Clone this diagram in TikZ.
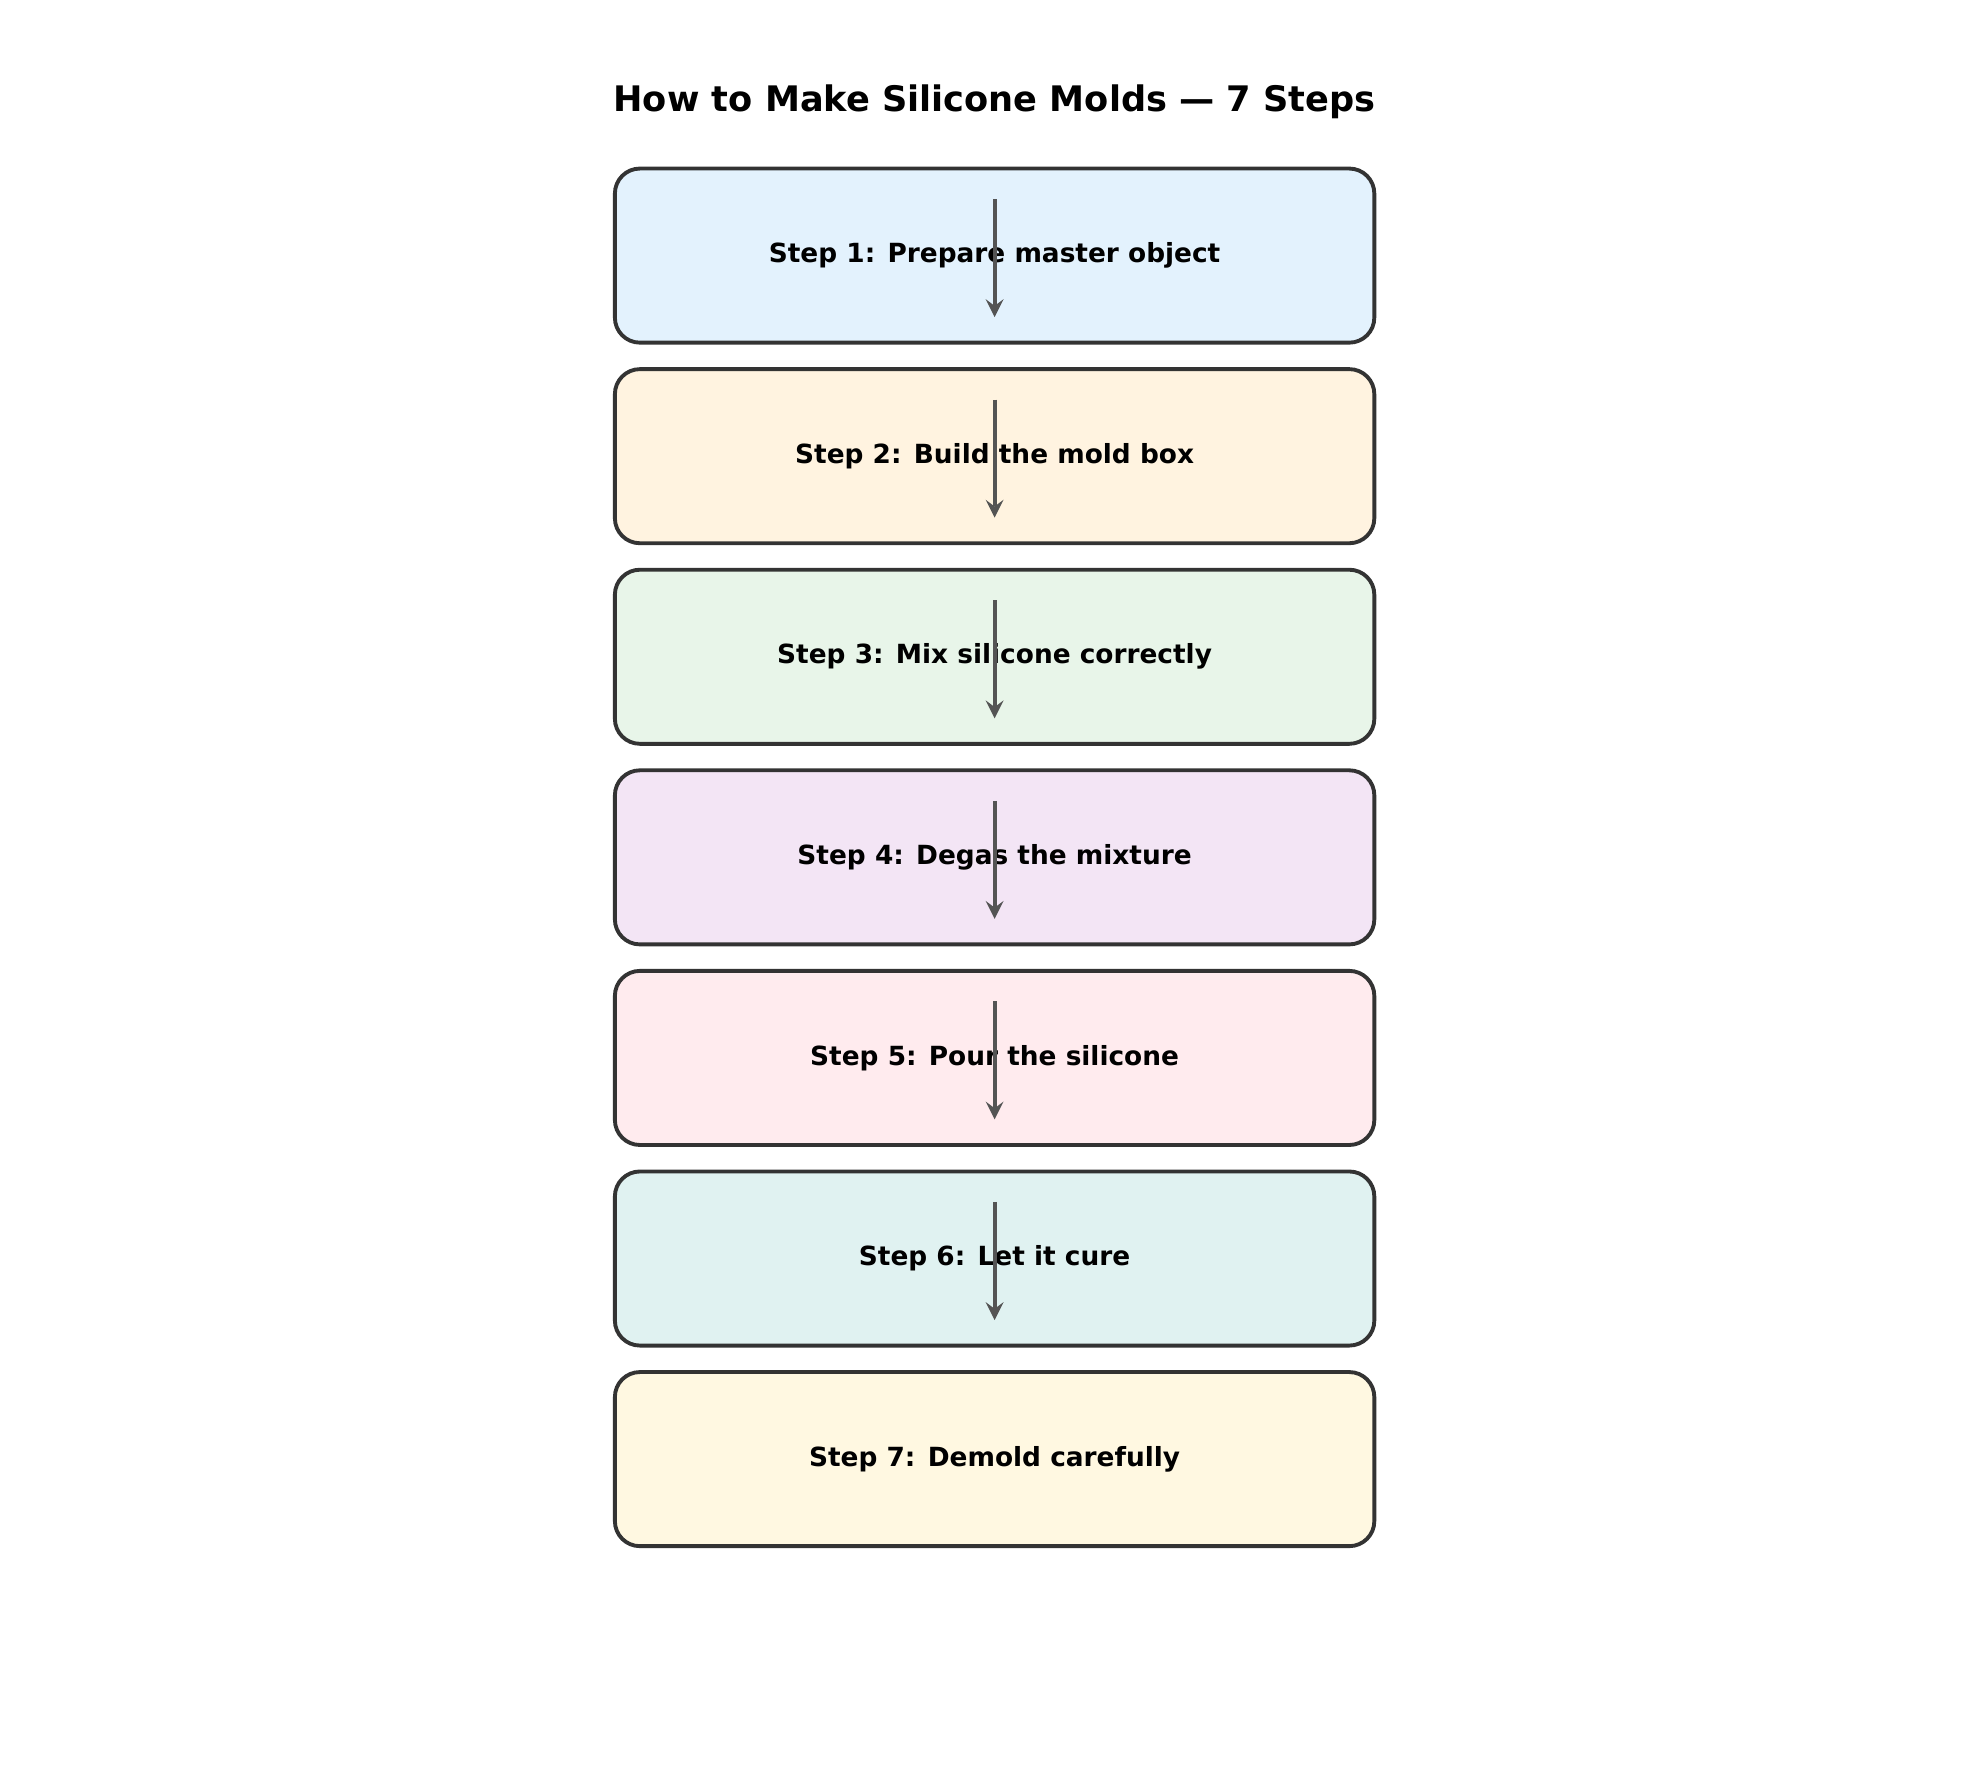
\documentclass[tikz,border=0pt]{standalone}
\usepackage{fontspec}
\setmainfont{DejaVu Sans}
\usetikzlibrary{positioning}
\definecolor{stepA}{HTML}{E3F2FD}
\definecolor{stepB}{HTML}{FFF3E0}
\definecolor{stepC}{HTML}{E8F5E9}
\definecolor{stepD}{HTML}{F3E5F5}
\definecolor{stepE}{HTML}{FFEBEE}
\definecolor{stepF}{HTML}{E0F2F1}
\definecolor{stepG}{HTML}{FFF8E1}
\tikzstyle{step_box}=[draw=black!80, line width=1.1pt, rounded corners=0.25cm,
  minimum width=7.59cm, minimum height=1.74cm, font=\fontsize{7.5}{9}\bfseries]
\tikzstyle{step_arrow}=[draw=black!67, line width=1.2pt, -stealth]
\begin{document}
\begin{tikzpicture}[x=0.01cm, y=-0.01cm, node distance=0.226cm]
  \useasboundingbox (0,0) rectangle (1979,1779);
  \node[font=\fontsize{10}{12}\bfseries] (title) at (994.6,101.5) {How to Make Silicone Molds — 7 Steps};
  \node[step_box, fill=stepA] (s1) at (994.6,255.6) {Step 1: Prepare master object};
  \node[step_box, fill=stepB, below=of s1] (s2) {Step 2: Build the mold box};
  \node[step_box, fill=stepC, below=of s2] (s3) {Step 3: Mix silicone correctly};
  \node[step_box, fill=stepD, below=of s3] (s4) {Step 4: Degas the mixture};
  \node[step_box, fill=stepE, below=of s4] (s5) {Step 5: Pour the silicone};
  \node[step_box, fill=stepF, below=of s5] (s6) {Step 6: Let it cure};
  \node[step_box, fill=stepG, below=of s6] (s7) {Step 7: Demold carefully};
  \foreach \i in {1,...,6}{
    \coordinate (a\i) at ([yshift=0.565cm]s\i.center);
    \coordinate (b\i) at ([yshift=-0.615cm]s\i.center);
    \draw[step_arrow] (a\i) -- (b\i);
  }
\end{tikzpicture}
\end{document}
